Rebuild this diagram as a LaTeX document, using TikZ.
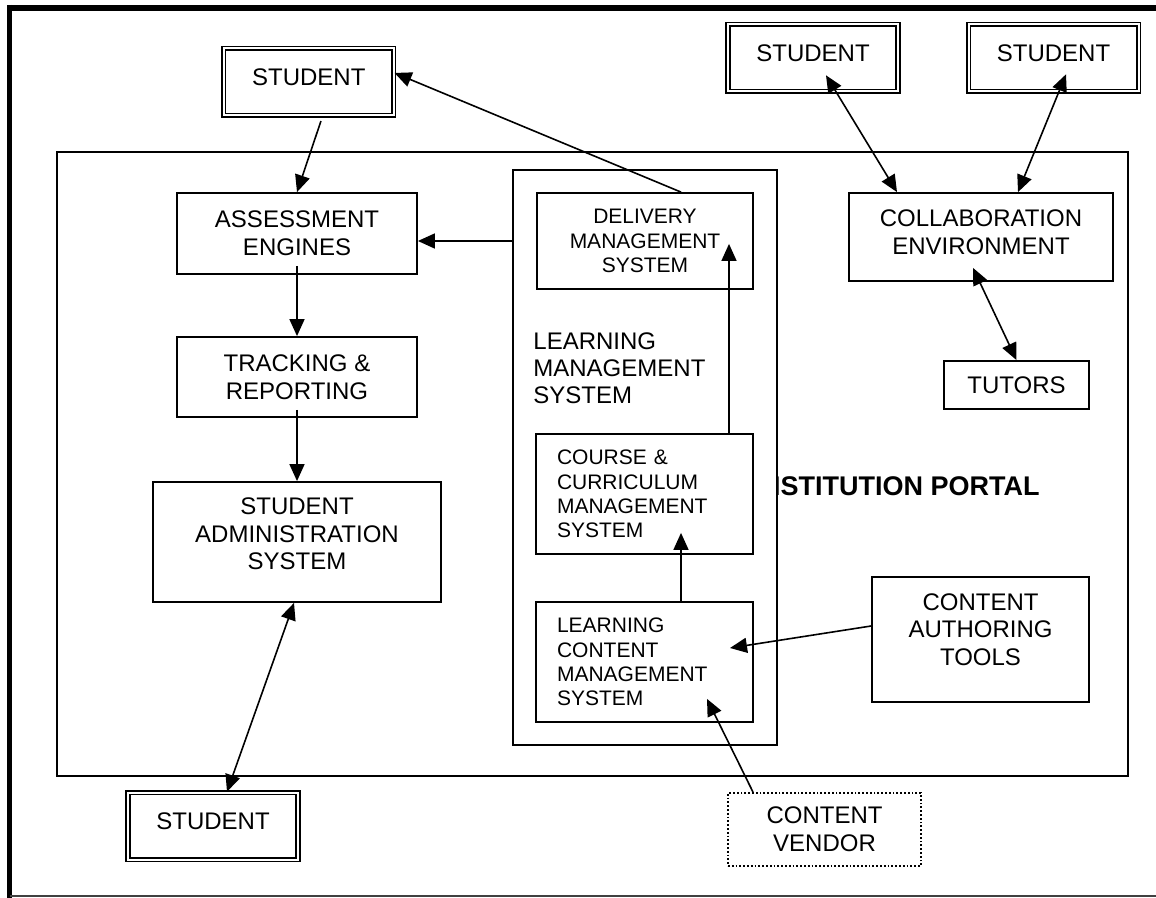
\documentclass[tikz,border=0pt]{standalone}
\usepackage{fontspec}
\setmainfont{Liberation Sans}
\usetikzlibrary{arrows.meta}
\tikzset{
  boxline/.style={draw=black, line width=0.9pt, rectangle, inner sep=0pt, align=center, font=\fontsize{12}{13.8}\selectfont},
  studbox/.style={boxline, double, line width=0.8pt, double distance=1pt, minimum width=85pt, minimum height=33.5pt, text depth=4.5pt},
  subbox/.style={boxline, minimum width=108.5pt, font=\fontsize{10.5}{12.2}\selectfont},
  leftbox/.style={subbox, minimum height=60pt, text width=87.5pt, align=left},
  vendbox/.style={boxline, densely dotted},
  lab/.style={inner sep=0pt, align=left, font=\fontsize{12}{13.5}\selectfont},
  portallab/.style={inner sep=0pt, font=\bfseries\fontsize{13.5}{16}\selectfont},
  link/.style={draw=black, line width=0.8pt, -{Triangle[length=8.5pt, width=7.5pt]}},
  twolink/.style={link, {Triangle[length=8.5pt, width=7.5pt]}-{Triangle[length=8.5pt, width=7.5pt]}},
}
\begin{document}
\begin{tikzpicture}[x=0.5pt, y=-0.5pt]
  \useasboundingbox (0,0) rectangle (1156,898);
  \path[fill=white] (0,0) rectangle (1156,898);

  % page frame
  \draw[line width=3pt] (7,8) -- (1156,8);
  \draw[line width=2.5pt] (9.5,5) -- (9.5,898);
  \draw[line width=0.75pt, draw=black!75] (9.5,896) -- (1156,896);

  % portal and learning management system
  \node[boxline, minimum width=535.5pt, minimum height=312pt] (portal) at (592.5,464) {};
  \node[portallab, anchor=east] (portall) at (1040,486) {INSTITUTION PORTAL};
  \node[boxline, fill=white, minimum width=132pt, minimum height=287.5pt] (lms) at (645,457.5) {};
  \node[lab, anchor=west] (lmsl) at (533,368.5) {LEARNING\\MANAGEMENT\\SYSTEM};
  \node[subbox, minimum width=108pt, minimum height=48pt] (dms) at (645,241) {DELIVERY\\MANAGEMENT\\SYSTEM};
  \node[leftbox] (ccms) at (644.5,494) {COURSE \&\\CURRICULUM\\MANAGEMENT\\SYSTEM};
  \node[leftbox] (lcms) at (644.5,662) {LEARNING\\CONTENT\\MANAGEMENT\\SYSTEM};

  % left column
  \node[boxline, minimum width=120pt, minimum height=40.5pt] (ae) at (297,233.5) {ASSESSMENT\\ENGINES};
  \node[boxline, minimum width=120pt, minimum height=40pt] (tr) at (297,377) {TRACKING \&\\REPORTING};
  \node[boxline, minimum width=144pt, minimum height=60pt, text depth=8pt] (sas) at (297,542) {STUDENT\\ADMINISTRATION\\SYSTEM};

  % right side
  \node[boxline, minimum width=132pt, minimum height=44pt, text depth=5pt] (ce) at (981,237) {COLLABORATION\\ENVIRONMENT};
  \node[boxline, minimum width=72.5pt, minimum height=24pt] (tut) at (1016.5,385) {TUTORS};
  \node[boxline, minimum width=108.5pt, minimum height=62.5pt, text depth=10pt] (cat) at (980.5,639.5) {CONTENT\\AUTHORING\\TOOLS};
  \node[vendbox, minimum width=96.5pt, minimum height=36.5pt] (cv) at (824.5,829.5) {CONTENT\\VENDOR};

  % students
  \node[studbox] (stuA) at (308.75,81.75) {STUDENT};
  \node[studbox] (stuB) at (813,58) {STUDENT};
  \node[studbox] (stuC) at (1053.5,58) {STUDENT};
  \node[studbox] (stuD) at (213,826) {STUDENT};

  % connectors
  \draw[link] ([xshift=18pt]dms.north) -- ([yshift=4.4pt]stuA.east);
  \draw[link] ([xshift=6.1pt,yshift=-2.5pt]stuA.south) -- (ae.north);
  \draw[link] (lms.west |- dms) -- (ae.east |- dms);
  \draw[link] ([yshift=4.5pt]ae.south) -- (tr.north);
  \draw[link] ([yshift=4pt]tr.south) -- (sas.north);
  \draw[twolink] ([xshift=-1.5pt]sas.south) -- ([xshift=7pt]stuD.north);
  \draw[link] ([xshift=18.25pt]lcms.north) -- ([xshift=18.25pt,yshift=11pt]ccms.south);
  \draw[link] ([xshift=42.25pt]ccms.north) -- ([xshift=42pt,yshift=23pt]dms.south);
  \draw[twolink] ([xshift=6.5pt,yshift=8.5pt]stuB.south) -- ([xshift=-42pt]ce.north);
  \draw[twolink] ([xshift=6.25pt,yshift=9pt]stuC.south) -- ([xshift=18.5pt]ce.north);
  \draw[twolink] ([xshift=-4pt,yshift=7pt]ce.south) -- (tut.north);
  \draw[link] ([yshift=6.75pt]cat.west) -- ([xshift=42.75pt,yshift=7pt]lcms.center);
  \draw[link] ([xshift=-35.75pt]cv.north) -- ([xshift=31.25pt,yshift=12pt]lcms.south);
\end{tikzpicture}
\end{document}
